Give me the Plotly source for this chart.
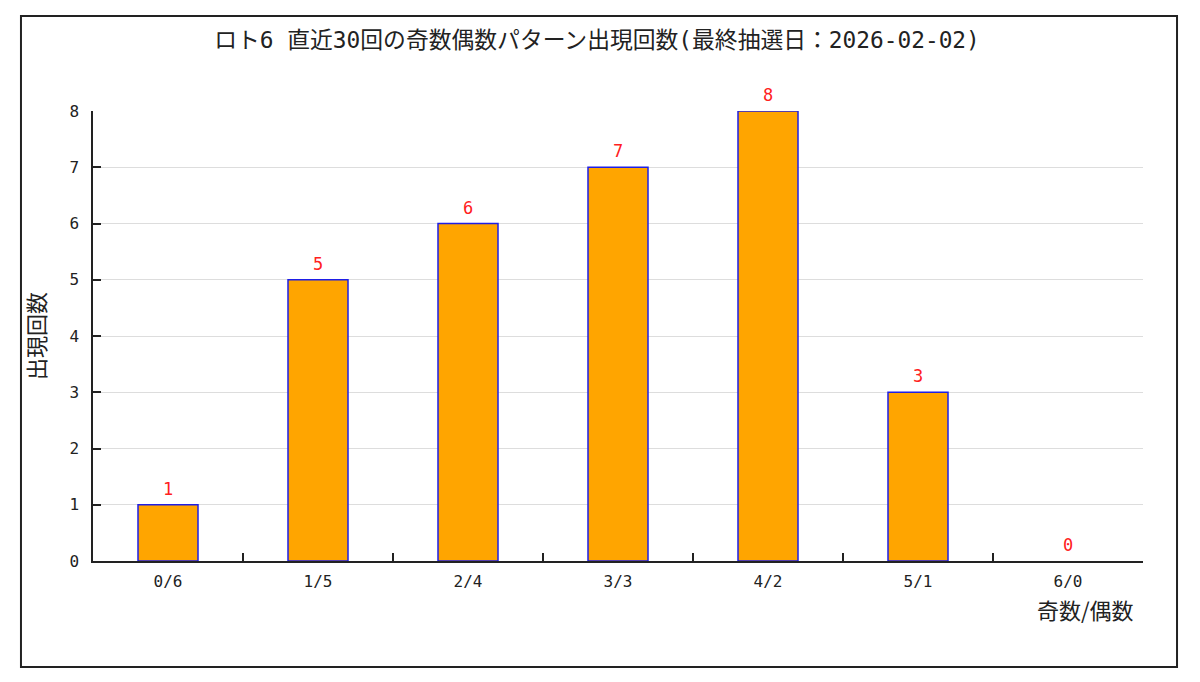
import plotly.graph_objects as go

# 奇数/偶数パターンと出現回数
patterns = ["0/6", "1/5", "2/4", "3/3", "4/2", "5/1", "6/0"]
counts = [1, 5, 6, 7, 8, 3, 0]
y_ticks = [0, 1, 2, 3, 4, 5, 6, 7, 8]

title_text = "ロト6 直近30回の奇数偶数パターン出現回数(最終抽選日：2026-02-02)"
font_main = "DejaVu Sans Mono, Noto Sans CJK JP, monospace"
font_cjk = "Noto Sans CJK JP"

# 0回の棒は枠線も描かない
line_widths = [1.5 if c > 0 else 0 for c in counts]

fig = go.Figure()
fig.add_trace(go.Bar(
    x=patterns,
    y=counts,
    width=0.4,
    marker=dict(color="#FFA500", line=dict(color="#1E1EE6", width=line_widths)),
    cliponaxis=False,
))

# 棒の上の回数ラベル
for p, c in zip(patterns, counts):
    fig.add_annotation(x=p, y=c, text=str(c), showarrow=False,
                       xanchor="center", yanchor="bottom", yshift=4,
                       font=dict(color="#FF2020", size=17, family=font_main))

# ページ余白(8px)を見込んだサイズ
fig.update_layout(
    width=1184, height=666,
    paper_bgcolor="white", plot_bgcolor="white",
    margin=dict(l=85, r=49, t=103, b=113),
    showlegend=False,
    font=dict(family=font_main, color="#222222", size=16),
    title=dict(text=title_text, x=0.4975, xanchor="center", y=0.952, yanchor="middle",
               font=dict(size=22.8, color="#222222", family=font_main)),
    xaxis=dict(
        showline=True, linecolor="#222222", linewidth=1.5,
        ticks="inside", tickson="boundaries", ticklen=8, tickcolor="#222222", tickwidth=1.5,
        showgrid=False, tickfont=dict(size=16), ticklabelstandoff=5,
    ),
    yaxis=dict(
        range=[0, 8], tickvals=y_ticks,
        showline=True, linecolor="#222222", linewidth=1.5,
        ticks="inside", ticklen=8, tickcolor="#222222", tickwidth=1.5,
        showgrid=True, gridcolor="#DDDDDD", gridwidth=1,
        zeroline=False, tickfont=dict(size=16),
        ticklabelstandoff=9,
    ),
    bargap=0.6,
)

# 軸タイトル
fig.add_annotation(text="出現回数", xref="paper", yref="paper", x=-0.0552, y=0.5,
                   xanchor="center", yanchor="middle", textangle=-90, showarrow=False,
                   font=dict(size=22, color="#222222", family=font_cjk))
fig.add_annotation(text="奇数/偶数", xref="paper", yref="paper", x=0.945, y=-0.107,
                   xanchor="center", yanchor="middle", showarrow=False,
                   font=dict(size=22, color="#222222", family=font_cjk))

# 外枠
fig.add_shape(type="rect", xref="paper", yref="paper",
              x0=-0.0686, x1=1.0324, y0=-0.2356, y1=1.2111,
              line=dict(color="#222222", width=2), fillcolor="rgba(0,0,0,0)", layer="below")

fig.write_html("out.html")
